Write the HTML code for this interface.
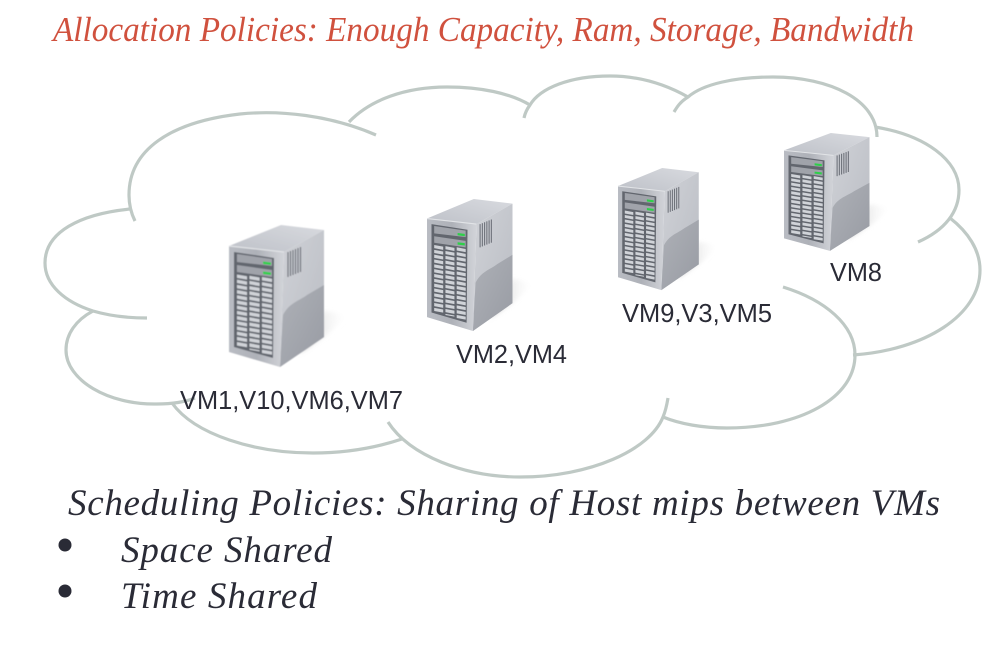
<!DOCTYPE html>
<html><head><meta charset="utf-8"><style>html,body{margin:0;padding:0;background:#fff}svg{display:block}
.t{font-family:"Liberation Serif",serif;font-style:italic}
.s{font-family:"Liberation Sans",sans-serif;font-size:25.6px;fill:#2a2b36}</style></head><body>
<svg width="989" height="652" viewBox="0 0 989 652" xmlns="http://www.w3.org/2000/svg">
<defs>
<filter id="b" x="-5%" y="-5%" width="110%" height="110%"><feGaussianBlur stdDeviation=".4"/></filter>
<filter id="b2" x="-30%" y="-30%" width="160%" height="160%"><feGaussianBlur stdDeviation="2.5"/></filter>
<linearGradient id="fr" x1="0" y1="0" x2="1" y2="0"><stop offset="0" stop-color="#b9bcc3"/><stop offset=".5" stop-color="#aeb1b8"/><stop offset="1" stop-color="#d2d4d9"/></linearGradient>
<linearGradient id="tp" x1="0" y1="1" x2="1" y2="0"><stop offset="0" stop-color="#bec1c8"/><stop offset="1" stop-color="#d8dadf"/></linearGradient>
<linearGradient id="rt" x1="0" y1="0" x2="1" y2="1"><stop offset="0" stop-color="#d0d2d7"/><stop offset="1" stop-color="#b9bcc3"/></linearGradient>
<linearGradient id="lo" x1="0" y1="0" x2="1" y2="1"><stop offset="0" stop-color="#aeb1b7"/><stop offset="1" stop-color="#989ba3"/></linearGradient>
<linearGradient id="sh" x1="0" y1="0" x2="1" y2="0"><stop offset="0" stop-color="#bdbdbd"/><stop offset="1" stop-color="#fff" stop-opacity="0"/></linearGradient>
<g id="srv">
<polygon points="95,86 120,90 95,112 70,128" fill="url(#sh)" filter="url(#b2)"/>
<g filter="url(#b)">
<polygon points="0,21 52,0 95,5 55,27" fill="url(#tp)"/>
<polygon points="55,27 95,5 95,112 51,142" fill="url(#rt)"/>
<path d="M54,90 C60,78 70,76 78,70 L95,60 V112 L51,142 Z" fill="url(#lo)"/>
<polygon points="0,21 55,27 51,142 0,127" fill="url(#fr)"/>
<polyline points="0,21 55,27" fill="none" stroke="#e2e4e7" stroke-width="1.2"/>
<polygon points="5,27 45,33 44,133 5,122" fill="#62666e"/>
<polygon points="8,29 43,34 43,41 8,37" fill="#a0a3aa"/>
<polygon points="8,40 43,45 43,52 8,47" fill="#a0a3aa"/>
<polygon points="34,36.5 42,37.5 42,40 34,39" fill="#2fd04a"/>
<polygon points="34,46.5 42,47.5 42,50 34,49" fill="#2fd04a"/>
<g fill="none" stroke="#d0d3d8" stroke-width="10" stroke-dasharray="3.4 1.8" transform="matrix(1,.18,0,1,0,0)">
<line x1="13" y1="48" x2="13" y2="120"/>
<line x1="25.5" y1="47" x2="25.5" y2="121"/>
<line x1="38" y1="46" x2="38" y2="122"/>
</g>
<g stroke="#6d7179" stroke-width="1.2"><line x1="59" y1="27" x2="59" y2="52"/><line x1="61.5" y1="26" x2="61.5" y2="51"/><line x1="64" y1="25" x2="64" y2="50"/><line x1="66.5" y1="24" x2="66.5" y2="49"/><line x1="69" y1="23" x2="69" y2="48"/><line x1="71.5" y1="22" x2="71.5" y2="47"/></g>
</g>
</g>
</defs>
<rect width="989" height="652" fill="#fff"/>
<g fill="none" stroke="#bfc9c5" stroke-width="3.2" stroke-linecap="butt">
<path d="M376,135 C330,115 280,110 240,114 C170,122 129,150 129,195 C129,205 131,213 135,221"/>
<path d="M130,209 C80,214 45,232 45,263 C45,285 65,302 93,311 C110,316 128,318 147,318"/>
<path d="M93,311 C76,320 66,334 66,350 C66,380 108,405 157,404 C172,404 185,402 195,398"/>
<path d="M172,403 C195,435 255,453 313,453 C345,453 375,448 402,439"/>
<path d="M388,422 C410,456 465,477 520,477 C590,477 650,450 663,417 C666,410 667,404 668,398"/>
<path d="M663,417 C680,424 703,428 727,428 C800,428 855,398 855,355 C855,325 825,300 783,287"/>
<path d="M853,355 C925,350 980,315 980,270 C980,250 968,232 950,218"/>
<path d="M918,242 C945,230 959,212 959,190 C959,160 925,135 875,127"/>
<path d="M877,137 C877,100 830,77 773,77 C735,77 703,84 688,97 C680,102 677,107 674,112"/>
<path d="M688,97 C665,84 640,76 610,76 C570,76 540,88 530,105 C527,109 525,113 524,118"/>
<path d="M530,105 C510,93 480,87 447,87 C405,87 370,100 349,122"/>
</g>
<use href="#srv" transform="translate(229,225)"/>
<use href="#srv" transform="translate(427,199) scale(.9,.93)"/>
<use href="#srv" transform="translate(618,168) scale(.85,.86)"/>
<use href="#srv" transform="translate(784,133) scale(.9,.83)"/>
<text class="s" x="180" y="409" textLength="223" lengthAdjust="spacingAndGlyphs">VM1,V10,VM6,VM7</text>
<text class="s" x="456" y="363" textLength="111" lengthAdjust="spacingAndGlyphs">VM2,VM4</text>
<text class="s" x="622" y="322" textLength="150" lengthAdjust="spacingAndGlyphs">VM9,V3,VM5</text>
<text class="s" x="830" y="281" textLength="52" lengthAdjust="spacingAndGlyphs">VM8</text>
<text class="t" x="53" y="41" font-size="35" fill="#d0513e" textLength="861" lengthAdjust="spacingAndGlyphs">Allocation Policies: Enough Capacity, Ram, Storage, Bandwidth</text>
<text class="t" x="68" y="515" font-size="37" fill="#2a2b36" textLength="872" lengthAdjust="spacing">Scheduling Policies: Sharing of Host mips between VMs</text>
<circle cx="65" cy="545" r="6.5" fill="#2a2b36"/>
<text class="t" x="121" y="562" font-size="37" fill="#2a2b36" textLength="211" lengthAdjust="spacing">Space Shared</text>
<circle cx="65" cy="591" r="6.5" fill="#2a2b36"/>
<text class="t" x="121" y="608" font-size="37" fill="#2a2b36" textLength="196" lengthAdjust="spacing">Time Shared</text>
</svg>
</body></html>
